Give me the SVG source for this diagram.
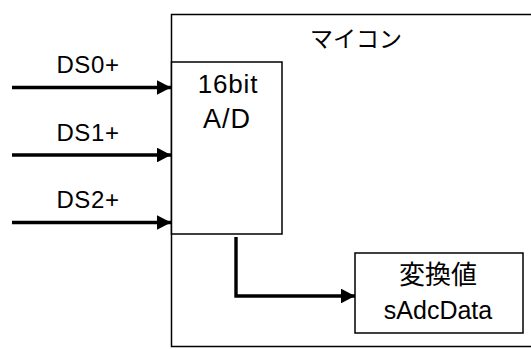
<svg xmlns="http://www.w3.org/2000/svg" width="531" height="349" viewBox="0 0 531 349">
<style>
text{font-family:"Liberation Sans","Noto Sans CJK JP",sans-serif;font-size:24px;fill:#000;text-anchor:middle}
.box{fill:#fff;stroke:#000;stroke-width:1.5}
.wire{fill:none;stroke:#000;stroke-width:3.4}
</style>
<defs>
<marker id="ah" markerWidth="4.2" markerHeight="4.4" refX="4.2" refY="2.2" orient="auto" markerUnits="strokeWidth">
<path d="M0,0 L4.2,2.2 L0,4.4 Z" fill="#000"/>
</marker>
</defs>
<g id="mcu">
<rect class="box" x="171.5" y="14.5" width="380" height="332"/>
<text x="356" y="47" style="font-size:23px">マイコン</text>
</g>
<g id="adc">
<rect class="box" x="171.5" y="62" width="110.5" height="172"/>
<text x="228" y="93" style="font-size:26px;letter-spacing:0.8px">16bit</text>
<text x="227" y="128" style="font-size:27px;letter-spacing:1px">A/D</text>
</g>
<g id="value">
<rect class="box" x="355" y="253" width="168" height="80"/>
<text x="438" y="284" style="font-size:26px">変換値</text>
<text x="438" y="319" style="font-size:25px">sAdcData</text>
</g>
<g id="labels">
<text x="88" y="73" style="letter-spacing:0.6px">DS0+</text>
<text x="88" y="141" style="letter-spacing:0.6px">DS1+</text>
<text x="88" y="208" style="letter-spacing:0.6px">DS2+</text>
</g>
<g id="connectors">
<line class="wire" x1="12" y1="87.5" x2="171" y2="87.5" marker-end="url(#ah)"/>
<line class="wire" x1="12" y1="155" x2="171" y2="155" marker-end="url(#ah)"/>
<line class="wire" x1="12" y1="222.5" x2="171" y2="222.5" marker-end="url(#ah)"/>
<polyline class="wire" points="236,237 236,296 355,296" marker-end="url(#ah)"/>
</g>
</svg>
